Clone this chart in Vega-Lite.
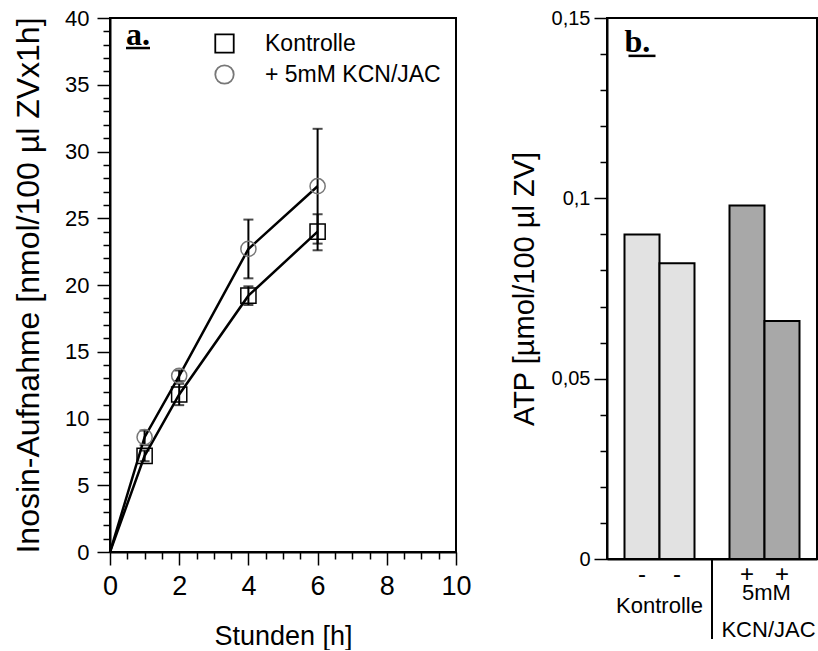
{
  "$schema": "https://vega.github.io/schema/vega-lite/v6.json",
  "background": "white",
  "padding": {"left": 11, "top": 6, "right": 0, "bottom": 0},
  "spacing": 36,
  "config": {
    "font": "Liberation Sans",
    "view": {"stroke": "black", "strokeWidth": 2},
    "axis": {"domainColor": "black", "domainWidth": 2, "tickColor": "black", "tickWidth": 1.5, "tickSize": 13, "labelColor": "black", "titleColor": "black", "grid": false, "labelFont": "Liberation Sans", "titleFont": "Liberation Sans", "titleFontWeight": "normal", "labelOverlap": false, "labelFlush": false, "labelBound": false}
  },
  "datasets": {
    "uptake": [
      {"time": 0, "uptake": 0, "lo": 0, "hi": 0, "group": "Kontrolle"},
      {"time": 1, "uptake": 7.2, "lo": 6.8, "hi": 7.6, "group": "Kontrolle"},
      {"time": 2, "uptake": 11.8, "lo": 11.0, "hi": 12.6, "group": "Kontrolle"},
      {"time": 4, "uptake": 19.2, "lo": 18.5, "hi": 19.9, "group": "Kontrolle"},
      {"time": 6, "uptake": 24.0, "lo": 22.6, "hi": 25.3, "group": "Kontrolle"},
      {"time": 0, "uptake": 0, "lo": 0, "hi": 0, "group": "+ 5mM KCN/JAC"},
      {"time": 1, "uptake": 8.6, "lo": 8.0, "hi": 9.1, "group": "+ 5mM KCN/JAC"},
      {"time": 2, "uptake": 13.2, "lo": 12.8, "hi": 13.6, "group": "+ 5mM KCN/JAC"},
      {"time": 4, "uptake": 22.7, "lo": 20.5, "hi": 24.9, "group": "+ 5mM KCN/JAC"},
      {"time": 6, "uptake": 27.4, "lo": 23.1, "hi": 31.7, "group": "+ 5mM KCN/JAC"}
    ],
    "atp": [
      {"slot": "K1", "treatment": "Kontrolle", "atp": 0.09},
      {"slot": "K2", "treatment": "Kontrolle", "atp": 0.082},
      {"slot": "C1", "treatment": "5mM KCN/JAC", "atp": 0.098},
      {"slot": "C2", "treatment": "5mM KCN/JAC", "atp": 0.066}
    ]
  },
  "hconcat": [
    {
      "width": 346,
      "height": 534,
      "data": {"name": "uptake"},
      "resolve": {"axis": {"x": "independent", "y": "independent"}},
      "layer": [
        {
          "mark": {"type": "line", "color": "black", "strokeWidth": 2.5},
          "encoding": {
            "x": {
              "field": "time", "type": "quantitative",
              "scale": {"domain": [0, 10], "nice": false},
              "axis": {
                "title": "Stunden [h]", "titleFontSize": 27, "titlePadding": 24,
                "labelFontSize": 27, "labelPadding": 8,
                "values": [0,0.5,1,1.5,2,2.5,3,3.5,4,4.5,5,5.5,6,6.5,7,7.5,8,8.5,9,9.5,10],
                "labelExpr": "datum.value % 2 == 0 ? '' + datum.value : ''",
                "tickDash": {"condition": {"test": "datum.value % 2 == 0", "value": [30, 1]}, "value": [7, 30]}
              }
            },
            "y": {
              "field": "uptake", "type": "quantitative",
              "scale": {"domain": [0, 40], "nice": false},
              "axis": {
                "title": "Inosin-Aufnahme [nmol/100 µl ZVx1h]", "titleFontSize": 32, "titlePadding": 19,
                "labelFontSize": 22, "labelPadding": 8,
                "values": [0,1,2,3,4,5,6,7,8,9,10,11,12,13,14,15,16,17,18,19,20,21,22,23,24,25,26,27,28,29,30,31,32,33,34,35,36,37,38,39,40],
                "labelExpr": "datum.value % 5 == 0 ? '' + datum.value : ''",
                "tickDash": {"condition": {"test": "datum.value % 5 == 0", "value": [30, 1]}, "value": [7, 30]}
              }
            },
            "detail": {"field": "group"}
          }
        },
        {
          "transform": [{"filter": "datum.time > 0"}],
          "mark": {"type": "errorbar", "color": "black", "ticks": {"size": 10, "thickness": 2, "color": "black"}, "rule": {"strokeWidth": 2, "color": "black"}},
          "encoding": {
            "x": {"field": "time", "type": "quantitative", "axis": null},
            "y": {"field": "lo", "type": "quantitative", "axis": null},
            "y2": {"field": "hi"},
            "detail": {"field": "group"}
          }
        },
        {
          "transform": [{"filter": "datum.time > 0"}],
          "mark": {"type": "point", "filled": false, "size": 230, "strokeWidth": 1.5, "opacity": 1},
          "encoding": {
            "x": {"field": "time", "type": "quantitative", "axis": null},
            "y": {"field": "uptake", "type": "quantitative", "axis": null},
            "shape": {
              "field": "group", "type": "nominal",
              "scale": {"domain": ["Kontrolle", "+ 5mM KCN/JAC"], "range": ["square", "circle"]},
              "legend": {"orient": "none", "legendX": 103, "legendY": 14, "padding": 0, "title": null, "labelFontSize": 23, "labelFont": "Liberation Sans", "labelColor": "black", "labelLimit": 0, "symbolSize": 340, "symbolStrokeColor": "black", "symbolFillColor": "transparent", "symbolStrokeWidth": 1.8, "labelOffset": 29, "rowPadding": 4}
            },
            "stroke": {
              "field": "group", "type": "nominal",
              "scale": {"domain": ["Kontrolle", "+ 5mM KCN/JAC"], "range": ["black", "#777777"]},
              "legend": null
            }
          }
        },
        {
          "data": {"values": [{}]},
          "mark": {"type": "text", "font": "Liberation Serif", "fontWeight": "bold", "fontSize": 32, "align": "left", "baseline": "alphabetic", "color": "black"},
          "encoding": {"x": {"datum": 0.46, "axis": null}, "y": {"datum": 38.0, "axis": null}, "text": {"value": "a."}}
        },
        {
          "data": {"values": [{}]},
          "mark": {"type": "tick", "orient": "horizontal", "size": 24, "thickness": 2.5, "color": "black", "opacity": 1},
          "encoding": {"x": {"datum": 0.81, "axis": null}, "y": {"datum": 37.75, "axis": null}}
        }
      ]
    },
    {
      "width": 210,
      "height": 541,
      "data": {"name": "atp"},
      "resolve": {"axis": {"x": "independent", "y": "independent"}},
      "layer": [
        {
          "mark": {"type": "bar", "stroke": "black", "strokeWidth": 2, "width": {"band": 1}},
          "encoding": {
            "x": {
              "field": "slot", "type": "nominal",
              "scale": {"domain": ["K1", "K2", "gap", "C1", "C2"], "paddingInner": 0, "paddingOuter": 0.5},
              "axis": {
                "title": null, "ticks": false, "labelAngle": 0, "labelFontSize": 24, "labelPadding": 3,
                "labelExpr": "datum.value == 'K1' || datum.value == 'K2' ? '-' : (datum.value == 'gap' ? '' : '+')"
              }
            },
            "y": {
              "field": "atp", "type": "quantitative",
              "scale": {"domain": [0, 0.15], "nice": false},
              "axis": {
                "title": "ATP [µmol/100 µl ZV]", "titleFontSize": 29, "titlePadding": 12,
                "labelFontSize": 20, "labelPadding": 4,
                "values": [0,0.01,0.02,0.03,0.04,0.05,0.06,0.07,0.08,0.09,0.1,0.11,0.12,0.13,0.14,0.15],
                "labelExpr": "round(datum.value * 100) % 5 == 0 ? replace('' + datum.value, '.', ',') : ''",
                "tickDash": {"condition": {"test": "round(datum.value * 100) % 5 == 0", "value": [30, 1]}, "value": [7, 30]}
              }
            },
            "fill": {"field": "treatment", "type": "nominal", "scale": {"domain": ["Kontrolle", "5mM KCN/JAC"], "range": ["#e2e2e2", "#a8a8a8"]}, "legend": null}
          }
        },
        {
          "data": {"values": [{}]},
          "mark": {"type": "rule", "strokeWidth": 2, "color": "black"},
          "encoding": {"x": {"datum": "gap", "axis": null}, "y": {"datum": 0, "axis": null}, "y2": {"datum": -0.0222}}
        },
        {
          "data": {"values": [{}]},
          "mark": {"type": "text", "fontSize": 22, "baseline": "middle", "align": "center", "dy": 47, "color": "black"},
          "encoding": {"x": {"datum": "K2", "bandPosition": 0, "axis": null}, "y": {"datum": 0, "axis": null}, "text": {"value": "Kontrolle"}}
        },
        {
          "data": {"values": [{}]},
          "mark": {"type": "text", "fontSize": 22, "baseline": "middle", "align": "center", "dy": 34, "dx": 2, "color": "black"},
          "encoding": {"x": {"datum": "C2", "bandPosition": 0, "axis": null}, "y": {"datum": 0, "axis": null}, "text": {"value": "5mM"}}
        },
        {
          "data": {"values": [{}]},
          "mark": {"type": "text", "fontSize": 22, "baseline": "middle", "align": "center", "dy": 71, "dx": 4, "color": "black"},
          "encoding": {"x": {"datum": "C2", "bandPosition": 0, "axis": null}, "y": {"datum": 0, "axis": null}, "text": {"value": "KCN/JAC"}}
        },
        {
          "data": {"values": [{}]},
          "mark": {"type": "text", "font": "Liberation Serif", "fontWeight": "bold", "fontSize": 32, "align": "left", "baseline": "alphabetic", "color": "black"},
          "encoding": {"x": {"datum": "K1", "bandPosition": 0, "axis": null}, "y": {"datum": 0.1406, "axis": null}, "text": {"value": "b."}}
        },
        {
          "data": {"values": [{}]},
          "mark": {"type": "tick", "orient": "horizontal", "size": 27, "thickness": 2.5, "color": "black", "opacity": 1},
          "encoding": {"x": {"datum": "K1", "bandPosition": 0.37, "axis": null}, "y": {"datum": 0.1395, "axis": null}}
        }
      ]
    }
  ]
}
